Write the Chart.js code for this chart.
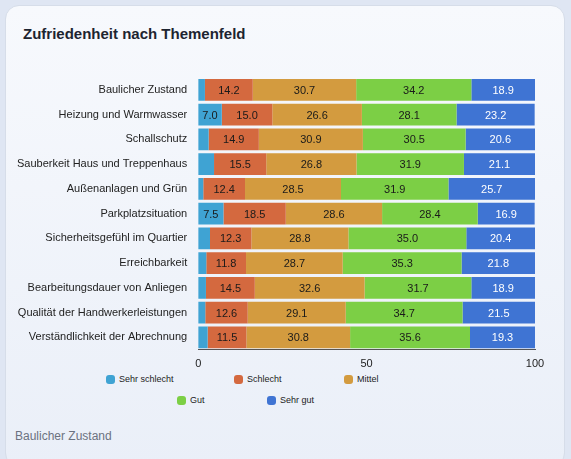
<!DOCTYPE html>
<html><head><meta charset="utf-8">
<script src="https://cdn.jsdelivr.net/npm/chart.js@4/dist/chart.umd.min.js"></script>
<style>
html,body{margin:0;padding:0;width:571px;height:459px;background:#dfe6f3;font-family:"Liberation Sans",Arial,sans-serif;overflow:hidden}
#card{position:absolute;left:5px;top:5px;width:558px;height:460px;border-radius:14px;background:linear-gradient(180deg,#f7f9fd,#eaeff8);border:1px solid #d6dde9}
#title{position:absolute;left:17px;top:19px;font-size:15px;font-weight:bold;color:#1d2430}
#foot{position:absolute;left:9px;top:423px;font-size:12px;color:#6b7280}
#wrap{position:absolute;left:0;top:62px;width:550px;height:306px}
.lg{position:absolute;font-size:9px;color:#222;display:flex;align-items:center}
.lg i{display:inline-block;width:9px;height:9px;border-radius:3px;margin-right:4px}
</style></head><body>
<div id="card"><div id="title">Zufriedenheit nach Themenfeld</div>
<div id="wrap"><canvas id="c"></canvas></div>
<div id="legend"></div>
<div id="foot">Baulicher Zustand</div></div>
<script>
const categories=["Baulicher Zustand","Heizung und Warmwasser","Schallschutz","Sauberkeit Haus und Treppenhaus","Außenanlagen und Grün","Parkplatzsituation","Sicherheitsgefühl im Quartier","Erreichbarkeit","Bearbeitungsdauer von Anliegen","Qualität der Handwerkerleistungen","Verständlichkeit der Abrechnung"];
const sehrSchlecht=[2.0,7.0,3.1,4.7,1.5,7.5,3.5,2.4,2.3,2.1,2.8];
const schlecht=[14.2,15.0,14.9,15.5,12.4,18.5,12.3,11.8,14.5,12.6,11.5];
const mittel=[30.7,26.6,30.9,26.8,28.5,28.6,28.8,28.7,32.6,29.1,30.8];
const gut=[34.2,28.1,30.5,31.9,31.9,28.4,35.0,35.3,31.7,34.7,35.6];
const sehrGut=[18.9,23.2,20.6,21.1,25.7,16.9,20.4,21.8,18.9,21.5,19.3];
const xTicks=[0,50,100];
const mk=(label,data,color,tc)=>({label,data,backgroundColor:color,borderWidth:0,textColor:tc,categoryPercentage:0.88,barPercentage:1});
const labelPlugin={id:'lbl',afterDatasetsDraw(ch){const ctx=ch.ctx;ctx.save();ctx.font='11px "Liberation Sans", Arial';ctx.textAlign='center';ctx.textBaseline='middle';
ch.data.datasets.forEach((ds,i)=>{ch.getDatasetMeta(i).data.forEach((el,j)=>{const v=ds.data[j];if(v<5)return;ctx.fillStyle=ds.textColor;const x=(el.x+el.base)/2;ctx.fillText(v.toFixed(1),x,el.y+1);});});ctx.restore();}};
const ch=new Chart(document.getElementById('c'),{type:'bar',
data:{labels:categories,datasets:[mk('Sehr schlecht',sehrSchlecht,'#3fa3d3','#1a1a1a'),mk('Schlecht',schlecht,'#d4693f','#1a1a1a'),mk('Mittel',mittel,'#d39b3f','#1a1a1a'),mk('Gut',gut,'#7ccf45','#1a1a1a'),mk('Sehr gut',sehrGut,'#3f74d3','#ffffff')]},
options:{indexAxis:'y',responsive:true,maintainAspectRatio:false,animation:false,
layout:{padding:{left:8,right:21,top:8,bottom:0}},
scales:{x:{stacked:true,min:0,max:100,afterBuildTicks:a=>{a.ticks=xTicks.map(v=>({value:v}));},grid:{display:false,tickLength:5},border:{color:'#555'},ticks:{color:'#222',font:{size:11}}},
y:{stacked:true,grid:{display:false},border:{display:false},ticks:{autoSkip:false,color:'#222',font:{size:11}}}},
plugins:{legend:{display:false},tooltip:{enabled:false}}},
plugins:[labelPlugin]});
const pos=[[105,378],[233,378],[343,378],[176,399],[266,399]];
const lg=document.getElementById('legend');
ch.data.datasets.forEach((ds,i)=>{const d=document.createElement('div');d.className='lg';d.style.left=(pos[i][0]-5)+'px';d.style.top=(pos[i][1]-5-5)+'px';d.innerHTML='<i style="background:'+ds.backgroundColor+'"></i>'+ds.label;lg.appendChild(d);});
</script></body></html>
